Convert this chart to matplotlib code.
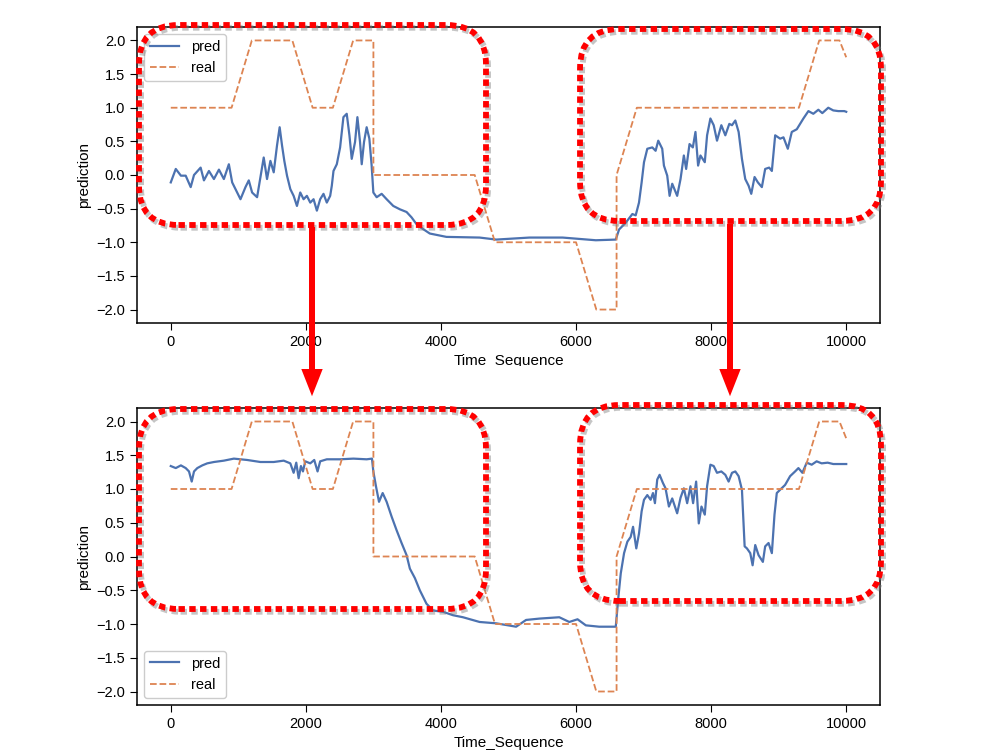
import matplotlib
matplotlib.use('Agg')
import matplotlib.pyplot as plt
import matplotlib.patheffects as pe
from matplotlib.patches import FancyBboxPatch, Rectangle
from matplotlib.transforms import Bbox, TransformedBbox

# --- Data ---
real_t = [0, 900, 1200, 1800, 2100, 2400, 2700, 3000, 3000, 4500, 4800,
          6000, 6300, 6600, 6600, 6900, 9300, 9600, 9900, 10000]
real_v = [1, 1, 2, 2, 1, 1, 2, 2, 0, 0, -1,
          -1, -2, -2, 0, 1, 1, 2, 2, 1.75]

pred_top_t = [0, 74, 150, 221, 295, 344, 442, 491, 565, 639, 713, 786, 860, 909,
              958, 1032, 1106, 1155, 1204, 1278, 1327, 1376, 1425, 1475, 1524,
              1573, 1612, 1647, 1681, 1721, 1770, 1819, 1868, 1917, 1966, 2015,
              2065, 2114, 2163, 2212, 2261, 2310, 2360, 2384, 2409, 2458, 2507,
              2556, 2605, 2645, 2679, 2728, 2763, 2802, 2827, 2861, 2900, 2940,
              2974, 2999, 3048, 3122, 3196, 3294, 3392, 3491, 3565, 3638, 3700,
              3835, 4081, 4572, 4818, 5310, 5801, 6293, 6588, 6637, 6735, 6834,
              6883, 6932, 6971, 7006, 7055, 7129, 7178, 7217, 7276, 7301, 7350,
              7385, 7424, 7497, 7547, 7596, 7630, 7680, 7729, 7768, 7807, 7842,
              7906, 7940, 7989, 8038, 8087, 8151, 8210, 8269, 8309, 8358, 8407,
              8456, 8505, 8555, 8594, 8643, 8692, 8751, 8800, 8859, 8899, 8948,
              9022, 9071, 9135, 9194, 9268, 9317, 9366, 9440, 9513, 9587, 9646,
              9734, 9808, 9882, 9971, 10000]
pred_top_v = [-0.11, 0.09, -0.01, -0.01, -0.18, 0.0, 0.11, -0.08, 0.06, -0.06,
              0.08, -0.06, 0.16, -0.11, -0.21, -0.36, -0.18, -0.08, -0.26, -0.33,
              -0.03, 0.26, -0.06, 0.21, 0.04, 0.44, 0.71, 0.44, 0.21, -0.01,
              -0.21, -0.31, -0.46, -0.26, -0.36, -0.31, -0.41, -0.36, -0.53,
              -0.36, -0.28, -0.41, -0.31, -0.16, 0.06, 0.16, 0.41, 0.86, 0.91,
              0.59, 0.24, 0.49, 0.86, 0.49, 0.16, 0.49, 0.71, 0.54, 0.14, -0.26,
              -0.33, -0.28, -0.36, -0.46, -0.51, -0.55, -0.63, -0.73, -0.78,
              -0.87, -0.92, -0.93, -0.96, -0.93, -0.93, -0.97, -0.96, -0.81,
              -0.71, -0.58, -0.60, -0.41, -0.11, 0.19, 0.39, 0.41, 0.36, 0.51,
              0.39, 0.14, -0.01, -0.31, -0.13, -0.31, -0.06, 0.29, 0.09, 0.46,
              0.41, 0.64, 0.14, 0.29, 0.19, 0.59, 0.84, 0.74, 0.51, 0.74, 0.59,
              0.76, 0.74, 0.81, 0.64, 0.24, -0.06, -0.16, -0.28, -0.03, -0.11,
              -0.18, 0.09, 0.11, 0.06, 0.59, 0.54, 0.56, 0.39, 0.64, 0.68, 0.76,
              0.84, 0.95, 0.91, 0.97, 0.92, 1.0, 0.96, 0.95, 0.95, 0.94]

pred_bot_t = [0, 74, 150, 221, 270, 310, 344, 393, 467, 540, 639, 786, 934, 1130,
              1327, 1524, 1672, 1770, 1819, 1858, 1893, 1927, 1957, 1991, 2065,
              2124, 2173, 2212, 2310, 2507, 2704, 2900, 2979, 2999, 3038, 3083,
              3137, 3196, 3270, 3343, 3417, 3491, 3540, 3614, 3687, 3786, 3884,
              4032, 4179, 4326, 4572, 4818, 5113, 5260, 5457, 5752, 5900, 6022,
              6145, 6342, 6563, 6588, 6627, 6662, 6711, 6760, 6809, 6844, 6892,
              6932, 6971, 7006, 7055, 7104, 7139, 7168, 7202, 7237, 7286, 7325,
              7375, 7424, 7497, 7547, 7596, 7645, 7694, 7733, 7778, 7817, 7857,
              7906, 7940, 7989, 8038, 8087, 8151, 8210, 8259, 8309, 8358, 8407,
              8456, 8496, 8530, 8579, 8614, 8653, 8702, 8766, 8800, 8850, 8899,
              8938, 8972, 9022, 9095, 9169, 9243, 9292, 9351, 9415, 9489, 9562,
              9636, 9725, 9808, 9971, 10000]
pred_bot_v = [1.34, 1.31, 1.35, 1.31, 1.26, 1.11, 1.26, 1.31, 1.35, 1.38, 1.40,
              1.42, 1.45, 1.43, 1.40, 1.40, 1.42, 1.38, 1.24, 1.39, 1.16, 1.34,
              1.26, 1.41, 1.38, 1.43, 1.26, 1.41, 1.44, 1.44, 1.45, 1.44, 1.45,
              1.26, 1.04, 0.81, 0.94, 0.81, 0.59, 0.39, 0.20, 0.02, -0.18, -0.32,
              -0.50, -0.70, -0.80, -0.82, -0.87, -0.90, -0.97, -0.99, -1.04,
              -0.94, -0.92, -0.90, -0.97, -0.93, -1.02, -1.04, -1.04, -1.04,
              -0.60, -0.25, 0.05, 0.22, 0.29, 0.44, 0.12, 0.34, 0.67, 0.84, 0.91,
              0.84, 0.94, 0.79, 1.14, 1.21, 1.09, 1.01, 0.74, 0.86, 0.64, 0.87,
              1.01, 0.79, 1.04, 0.79, 1.11, 0.49, 0.74, 0.62, 1.04, 1.36, 1.34,
              1.24, 1.26, 1.21, 1.11, 1.24, 1.26, 1.19, 0.99, 0.15, 0.12, 0.05,
              -0.13, 0.17, 0.02, -0.08, 0.15, 0.20, 0.05, 0.62, 0.94, 0.99, 1.06,
              1.19, 1.26, 1.31, 1.24, 1.39, 1.36, 1.41, 1.38, 1.39, 1.37, 1.37,
              1.37]

# --- Style ---
plt.rcParams['font.family'] = ['Liberation Sans', 'DejaVu Sans']
plt.rcParams['font.size'] = 10.5
plt.rcParams['xtick.direction'] = 'out'
plt.rcParams['ytick.direction'] = 'out'
plt.rcParams['xtick.major.size'] = 5
plt.rcParams['ytick.major.size'] = 5
plt.rcParams['axes.linewidth'] = 1.1

W, H = 987, 754
fig = plt.figure(figsize=(W / 100, H / 100), dpi=100)


def px_box(x0, y0, x1, y1):
    # pixel box (top-left origin) -> figure fraction [l, b, w, h]
    return [x0 / W, 1 - y1 / H, (x1 - x0) / W, (y1 - y0) / H]


ax1 = fig.add_axes(px_box(137, 27, 880, 323))
ax2 = fig.add_axes(px_box(137, 408, 880, 705))

for ax, pt, pv, loc in [(ax1, pred_top_t, pred_top_v, 'upper left'),
                        (ax2, pred_bot_t, pred_bot_v, 'lower left')]:
    ax.plot(pt, pv, color='#4c72b0', lw=1.6, label='pred')
    ax.plot(real_t, real_v, color='#dd8452', lw=1.3, ls='--', label='real')
    ax.set_xlim(-500, 10500)
    ax.set_ylim(-2.2, 2.2)
    ax.set_yticks([-2.0, -1.5, -1.0, -0.5, 0.0, 0.5, 1.0, 1.5, 2.0])
    ax.set_xticks([0, 2000, 4000, 6000, 8000, 10000])
    ax.set_xlabel('Time_Sequence', fontsize=11)
    ax.set_ylabel('prediction', fontsize=11)
    ax.legend(loc=loc, fontsize=10.5, framealpha=1)

# the top chart's x label is cut off by the lower chart
clip = TransformedBbox(Bbox([[0, 1 - 366 / H], [1, 1]]), fig.transFigure)
ax1.xaxis.label.set_clip_on(True)
ax1.xaxis.label.set_clip_box(clip)

# --- Red dotted highlight boxes ---
shadow = [pe.SimpleLineShadow(offset=(1.5, -2), shadow_color='0.5', alpha=0.45),
          pe.Normal()]
boxes = [(139, 25, 486, 225), (580, 29, 881, 221),
         (139, 409, 486, 609), (580, 405, 881, 601)]
for x0, y0, x1, y1 in boxes:
    l, b, w, h = px_box(x0, y0, x1, y1)
    patch = FancyBboxPatch((l, b), w, h, boxstyle='round,pad=0,rounding_size=0.04',
                           transform=fig.transFigure, fill=False, edgecolor='red',
                           lw=4.2, ls=(0, (1.1, 0.75)), mutation_aspect=W / H,
                           path_effects=shadow, zorder=10)
    fig.add_artist(patch)

# --- Red arrows between the charts ---
for x, y_start in [(312, 227), (730, 224)]:
    fig.add_artist(Rectangle(((x - 3) / W, 1 - 375 / H), 6 / W, (375 - y_start) / H,
                             transform=fig.transFigure, color='red', lw=0, zorder=11))
    ax1.annotate('', xy=(x / W, 1 - 399 / H), xycoords='figure fraction',
                 xytext=(x / W, 1 - 370 / H), textcoords='figure fraction',
                 arrowprops=dict(arrowstyle='-|>,head_width=0.55,head_length=1.4',
                                 color='red', lw=0, mutation_scale=14),
                 annotation_clip=False, zorder=11)

fig.savefig('out.png', dpi=100)
